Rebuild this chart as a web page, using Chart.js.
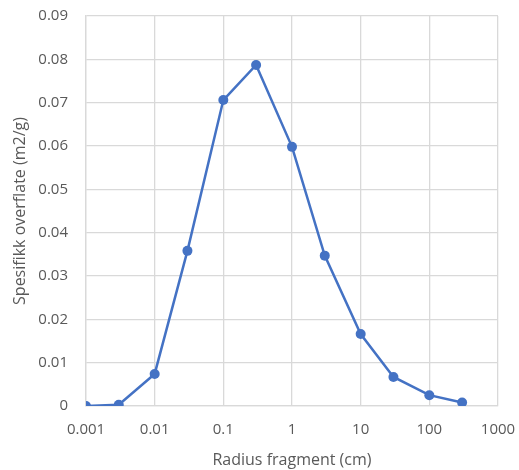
<!DOCTYPE html>
<html>
<head>
<meta charset="utf-8">
<script src="https://cdn.jsdelivr.net/npm/chart.js@4"></script>
<style>
html,body{margin:0;padding:0;background:#fff;}
#wrap{width:519px;height:470px;}
</style>
</head>
<body>
<div id="wrap"><canvas id="c" width="519" height="470"></canvas></div>
<script>
const radius = [0.001, 0.003, 0.01, 0.03, 0.1, 0.3, 1, 3, 10, 30, 100, 300];
const surface = [0, 0.0003, 0.0074, 0.0358, 0.0706, 0.0787, 0.0598, 0.0347, 0.0166, 0.0067, 0.0025, 0.0008];
const xTicks = [0.001, 0.01, 0.1, 1, 10, 100, 1000];
const xTickLabels = ["0.001", "0.01", "0.1", "1", "10", "100", "1000"];
const yTicks = [0, 0.01, 0.02, 0.03, 0.04, 0.05, 0.06, 0.07, 0.08, 0.09];
const yTickLabels = ["0", "0.01", "0.02", "0.03", "0.04", "0.05", "0.06", "0.07", "0.08", "0.09"];
const xTitle = "Radius fragment (cm)";
const yTitle = "Spesifikk overflate (m2/g)";

const FONT = "'Open Sans', 'Liberation Sans', sans-serif";
const TXT = '#595959';
const GRID = '#d9d9d9';

new Chart(document.getElementById('c'), {
  type: 'line',
  data: {
    datasets: [{
      data: radius.map((r, i) => ({x: r, y: surface[i]})),
      borderColor: '#4472C4',
      backgroundColor: '#4472C4',
      borderWidth: 2.5,
      pointRadius: 5,
      pointBorderWidth: 0,
      pointBackgroundColor: '#4472C4',
      tension: 0
    }]
  },
  options: {
    responsive: false,
    animation: false,
    devicePixelRatio: 1,
    layout: {padding: {top: 16, right: 21, left: 0, bottom: 0}},
    plugins: {legend: {display: false}, tooltip: {enabled: false}},
    scales: {
      x: {
        type: 'logarithmic',
        min: 0.001, max: 1000,
        afterBuildTicks: s => { s.ticks = xTicks.map(v => ({value: v})); },
        afterFit: s => { s.height = 64; s.paddingLeft = 0; s.paddingRight = 0; },
        ticks: {
          autoSkip: false, maxRotation: 0, padding: 15,
          color: TXT, font: {family: FONT, size: 15},
          callback: (v, i) => xTickLabels[i]
        },
        grid: {color: GRID, lineWidth: 1.3, drawTicks: false},
        border: {color: GRID, width: 1.3},
        title: {display: true, text: xTitle, color: TXT, font: {family: FONT, size: 16}, padding: {top: 0, bottom: 0}}
      },
      y: {
        min: 0, max: 0.09,
        afterBuildTicks: s => { s.ticks = yTicks.map(v => ({value: v})); },
        afterFit: s => { s.width = 86; s.paddingTop = 0; s.paddingBottom = 0; },
        ticks: {
          padding: 18,
          color: TXT, font: {family: FONT, size: 15},
          callback: (v, i) => yTickLabels[i]
        },
        grid: {color: GRID, lineWidth: 1.3, drawTicks: false},
        border: {color: GRID, width: 1.3},
        title: {display: true, text: yTitle, color: TXT, font: {family: FONT, size: 16}, padding: {top: 11, bottom: 0}}
      }
    }
  }
});
</script>
</body>
</html>
